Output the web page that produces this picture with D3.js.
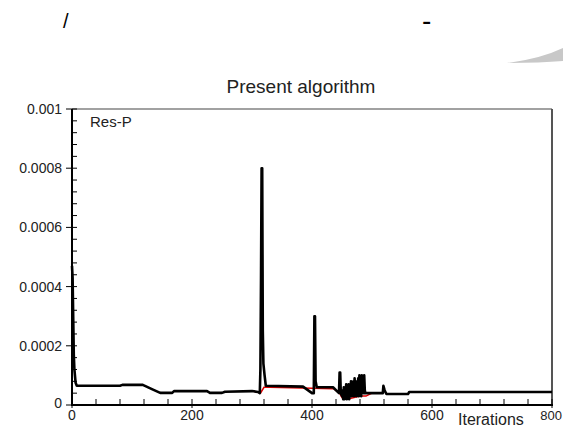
<!DOCTYPE html>
<html>
<head>
<meta charset="utf-8">
<script src="https://cdn.jsdelivr.net/npm/d3@7"></script>
<style>
  body { margin: 0; background: #fff; }
  text { font-family: "Liberation Sans", Arial, sans-serif; fill: #222; }
</style>
</head>
<body>
<svg id="chart" width="563" height="432"></svg>
<script>
// values
const iters = [0, 1, 2, 3, 4, 6, 8, 80, 84, 118, 135, 147, 167, 170, 225, 230, 250, 255, 300, 310, 313,
  314, 315, 316, 317, 318, 319, 321, 323, 385, 400, 403, 404, 405, 406, 408, 435, 445, 446, 447, 448,
  450, 451, 452, 453, 454, 455, 456, 457, 458, 459, 460, 461, 462, 463, 464, 465, 466, 467, 468, 469,
  470, 471, 472, 473, 474, 475, 476, 477, 478, 479, 480, 481, 482, 483, 484, 485, 486, 487, 488, 489, 490,
  518, 519, 521, 524, 560, 562, 800];
const resP = [0.00047, 0.00043, 0.0003, 0.00017, 0.00012, 0.000075, 0.000065, 0.000065, 0.000068, 0.000068,
  0.000052, 0.000041, 0.000041, 0.000047, 0.000047, 0.000041, 0.000041, 0.000045, 0.000047, 0.000044, 0.00004,
  0.00012, 0.00042, 0.0008, 0.0008, 0.00025, 0.00014, 0.0001, 0.000065, 0.000062, 0.00004, 0.00004, 0.0003,
  0.0003, 0.00008, 0.00006, 0.00006, 0.00004, 0.00011, 0.00011, 0.00004,
  0.00003, 0.00005, 0.00002, 0.00006, 0.00002, 0.00005, 0.00003, 0.00007, 0.00002, 0.00006,
  0.00003, 0.00007, 0.00002, 0.00006, 0.00003, 0.00008, 0.00003, 0.00007, 0.00004, 0.00008,
  0.00003, 0.00009, 0.00004, 0.00007, 0.00003, 0.00008, 0.00004, 0.00009, 0.00003, 0.0001,
  0.00004, 0.00008, 0.00003, 0.0001, 0.00005, 0.00009, 0.00004, 0.0001, 0.00005, 0.00004, 0.00004,
  0.00004, 0.000065, 0.00005, 0.000037, 0.000037, 0.000044, 0.000044];
// faint red trace peeking out under the black one
const redIters = [300, 310, 314, 320, 330, 436, 446, 450, 460, 470, 480, 490, 500];
const redVals = [0.000047, 0.000044, 0.00004, 0.00006, 0.00006, 0.000055, 0.00004, 0.000025, 0.00002, 0.000025, 0.00003, 0.00003, 0.00004];

const xMajor = [0, 200, 400, 600, 800];
const yMajor = [0, 0.0002, 0.0004, 0.0006, 0.0008, 0.001];
const yLabels = ["0", "0.0002", "0.0004", "0.0006", "0.0008", "0.001"];

const svg = d3.select("#chart");
let x = d3.scaleLinear().domain([0, 800]).range([72, 552]);
let y = d3.scaleLinear().domain([0, 0.001]).range([405, 109]);

// stray marks above the plot
svg.append("text").attr("x", 63).attr("y", 28).attr("font-size", 20).style("fill", "#000").text("/");
svg.append("text").attr("x", 422).attr("y", 30).attr("font-size", 28).style("fill", "#000").text("-");
svg.append("path")
   .attr("d", "M507,63 Q540,59 563,48 L563,61 Q540,63 507,63 Z")
   .attr("fill", "#c8c8c8");

svg.append("text")
   .attr("x", 301).attr("y", 93)
   .attr("text-anchor", "middle")
   .attr("font-size", 19)
   .text("Present algorithm");

// frame
svg.append("line").attr("x1", 72).attr("x2", 552).attr("y1", 109).attr("y2", 109)
   .attr("stroke", "#444").attr("stroke-width", 1.2);
svg.append("line").attr("x1", 552).attr("x2", 552).attr("y1", 109).attr("y2", 405)
   .attr("stroke", "#555").attr("stroke-width", 2);

let yMinor = d3.range(0, 0.00100001, 0.00004);
svg.append("g").selectAll("line.ymin")
   .data(yMinor).join("line")
   .attr("x1", 72).attr("x2", 77)
   .attr("y1", d => y(d)).attr("y2", d => y(d))
   .attr("stroke", "#000").attr("stroke-width", 1);
svg.append("g").selectAll("line.ymaj")
   .data(yMajor).join("line")
   .attr("x1", 66).attr("x2", 72)
   .attr("y1", d => y(d)).attr("y2", d => y(d))
   .attr("stroke", "#000").attr("stroke-width", 1);
svg.append("g").selectAll("text")
   .data(yMajor).join("text")
   .attr("x", 62)
   .attr("y", (d, i) => y(d) + (i == 0 ? 3 : 5))
   .attr("text-anchor", "end")
   .attr("font-size", 14)
   .text((d, i) => yLabels[i]);

let xMinor = d3.range(0, 801, 40);
svg.append("g").selectAll("line")
   .data(xMinor).join("line")
   .attr("x1", d => x(d)).attr("x2", d => x(d))
   .attr("y1", 399).attr("y2", d => d % 200 == 0 ? 408 : 405)
   .attr("stroke", "#000").attr("stroke-width", 1);
svg.append("g").selectAll("text")
   .data(xMajor).join("text")
   .attr("x", d => d == 800 ? 562 : x(d))
   .attr("y", 420)
   .attr("text-anchor", d => d == 800 ? "end" : "middle")
   .attr("font-size", d => d == 800 ? 13 : 14)
   .text(d => d);

svg.append("line").attr("x1", 72).attr("x2", 72).attr("y1", 109).attr("y2", 406)
   .attr("stroke", "#000").attr("stroke-width", 2);
svg.append("line").attr("x1", 71).attr("x2", 553).attr("y1", 405).attr("y2", 405)
   .attr("stroke", "#000").attr("stroke-width", 2);

svg.append("text").attr("x", 458).attr("y", 425).attr("font-size", 16).text("Iterations");
svg.append("text").attr("x", 90).attr("y", 127).attr("font-size", 15).text("Res-P");

let lineGen = d3.line().x(d => x(d[0])).y(d => y(d[1]));
svg.append("path")
   .datum(redIters.map((d, i) => [d, redVals[i]]))
   .attr("fill", "none").attr("stroke", "#e00000").attr("stroke-width", 1.5)
   .attr("d", lineGen);
svg.append("path")
   .datum(iters.map((d, i) => [d, resP[i]]))
   .attr("fill", "none").attr("stroke", "#000").attr("stroke-width", 2.6)
   .attr("stroke-linejoin", "round")
   .attr("d", lineGen);
</script>
</body>
</html>
